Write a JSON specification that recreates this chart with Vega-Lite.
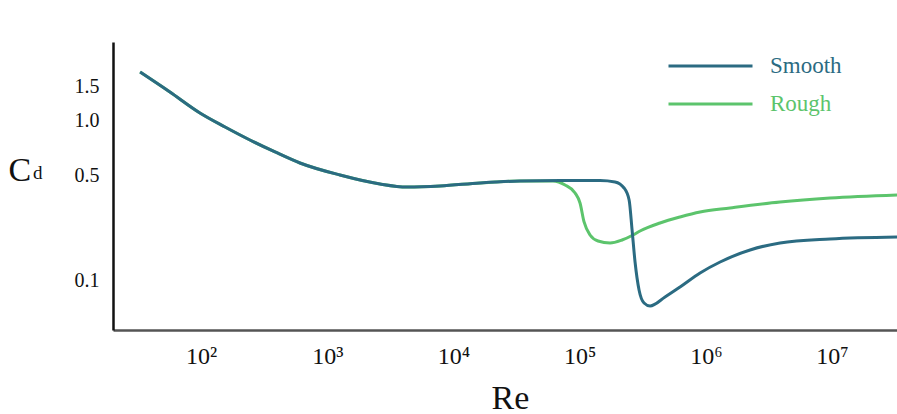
{
  "$schema": "https://vega.github.io/schema/vega-lite/v6.json",
  "width": 784,
  "height": 288,
  "autosize": "none",
  "padding": {"top": 42, "left": 113, "right": 0, "bottom": 84},
  "background": "white",
  "config": {"view": {"stroke": null}},
  "layer": [
    {
      "data": {"values": [
        {"Re": 32.9, "Cd": 1.770, "surface": "Smooth"},
        {"Re": 56.7, "Cd": 1.410, "surface": "Smooth"},
        {"Re": 98, "Cd": 1.1015, "surface": "Smooth"},
        {"Re": 155, "Cd": 0.9292, "surface": "Smooth"},
        {"Re": 244, "Cd": 0.7903, "surface": "Smooth"},
        {"Re": 386, "Cd": 0.6782, "surface": "Smooth"},
        {"Re": 608, "Cd": 0.5876, "surface": "Smooth"},
        {"Re": 1262, "Cd": 0.5006, "surface": "Smooth"},
        {"Re": 2618, "Cd": 0.4429, "surface": "Smooth"},
        {"Re": 4285, "Cd": 0.4249, "surface": "Smooth"},
        {"Re": 7830, "Cd": 0.4308, "surface": "Smooth"},
        {"Re": 16250, "Cd": 0.4490, "surface": "Smooth"},
        {"Re": 33730, "Cd": 0.4615, "surface": "Smooth"},
        {"Re": 70000, "Cd": 0.4646, "surface": "Smooth"},
        {"Re": 145300, "Cd": 0.4646, "surface": "Smooth"},
        {"Re": 190700, "Cd": 0.4552, "surface": "Smooth"},
        {"Re": 224900, "Cd": 0.4191, "surface": "Smooth"},
        {"Re": 246600, "Cd": 0.3541, "surface": "Smooth"},
        {"Re": 260300, "Cd": 0.2278, "surface": "Smooth"},
        {"Re": 274800, "Cd": 0.1375, "surface": "Smooth"},
        {"Re": 295600, "Cd": 0.0855, "surface": "Smooth"},
        {"Re": 323800, "Cd": 0.0677, "surface": "Smooth"},
        {"Re": 361300, "Cd": 0.0641, "surface": "Smooth"},
        {"Re": 475000, "Cd": 0.0755, "surface": "Smooth"},
        {"Re": 624700, "Cd": 0.0901, "surface": "Smooth"},
        {"Re": 900000, "Cd": 0.1146, "surface": "Smooth"},
        {"Re": 1297000, "Cd": 0.1375, "surface": "Smooth"},
        {"Re": 2240000, "Cd": 0.1669, "surface": "Smooth"},
        {"Re": 3870000, "Cd": 0.1864, "surface": "Smooth"},
        {"Re": 9640000, "Cd": 0.1985, "surface": "Smooth"},
        {"Re": 32700000, "Cd": 0.2047, "surface": "Smooth"},
        {"Re": 32.9, "Cd": 1.770, "surface": "Rough"},
        {"Re": 56.7, "Cd": 1.410, "surface": "Rough"},
        {"Re": 98, "Cd": 1.1015, "surface": "Rough"},
        {"Re": 155, "Cd": 0.9292, "surface": "Rough"},
        {"Re": 244, "Cd": 0.7903, "surface": "Rough"},
        {"Re": 386, "Cd": 0.6782, "surface": "Rough"},
        {"Re": 608, "Cd": 0.5876, "surface": "Rough"},
        {"Re": 1262, "Cd": 0.5006, "surface": "Rough"},
        {"Re": 2618, "Cd": 0.4429, "surface": "Rough"},
        {"Re": 4285, "Cd": 0.4249, "surface": "Rough"},
        {"Re": 7830, "Cd": 0.4308, "surface": "Rough"},
        {"Re": 16250, "Cd": 0.4490, "surface": "Rough"},
        {"Re": 33730, "Cd": 0.4615, "surface": "Rough"},
        {"Re": 61500, "Cd": 0.4615, "surface": "Rough"},
        {"Re": 76600, "Cd": 0.4368, "surface": "Rough"},
        {"Re": 92000, "Cd": 0.3909, "surface": "Rough"},
        {"Re": 100700, "Cd": 0.3392, "surface": "Rough"},
        {"Re": 108400, "Cd": 0.2570, "surface": "Rough"},
        {"Re": 120900, "Cd": 0.2111, "surface": "Rough"},
        {"Re": 139900, "Cd": 0.1924, "surface": "Rough"},
        {"Re": 174200, "Cd": 0.1864, "surface": "Rough"},
        {"Re": 216800, "Cd": 0.1954, "surface": "Rough"},
        {"Re": 265000, "Cd": 0.2111, "surface": "Rough"},
        {"Re": 301100, "Cd": 0.2244, "surface": "Rough"},
        {"Re": 433500, "Cd": 0.2532, "surface": "Rough"},
        {"Re": 624700, "Cd": 0.2768, "surface": "Rough"},
        {"Re": 900000, "Cd": 0.2979, "surface": "Rough"},
        {"Re": 1556000, "Cd": 0.3157, "surface": "Rough"},
        {"Re": 3870000, "Cd": 0.3441, "surface": "Rough"},
        {"Re": 9640000, "Cd": 0.3642, "surface": "Rough"},
        {"Re": 32700000, "Cd": 0.3800, "surface": "Rough"}
      ]},
      "encoding": {
        "x": {
          "field": "Re", "type": "quantitative",
          "scale": {"type": "log", "domain": [20.07, 32700000], "nice": false},
          "axis": {
            "values": [100, 1000, 10000, 100000, 1000000, 10000000],
            "labelExpr": "'10' + ['⁰','¹','²','³','⁴','⁵','⁶','⁷','⁸'][round(log(datum.value)/LN10)]",
            "labelFont": "Liberation Serif", "labelFontSize": 24, "labelColor": "#111",
            "labelPadding": 14, "ticks": false, "grid": false,
            "domainColor": "#555", "domainWidth": 2.5,
            "title": "Re", "titleFont": "Liberation Serif", "titleFontSize": 34,
            "titleFontWeight": "normal", "titleColor": "#111",
            "titleX": 397, "titleY": 78, "titleBaseline": "alphabetic", "titleAlign": "center"
          }
        },
        "y": {
          "field": "Cd", "type": "quantitative",
          "scale": {"type": "pow", "exponent": 0.15, "domain": [0.0406, 2.455], "nice": false, "zero": false},
          "axis": {
            "values": [0.1, 0.5, 1, 1.5], "format": ".1f",
            "labelFont": "Liberation Serif", "labelFontSize": 20, "labelColor": "#111",
            "labelPadding": 14, "ticks": false, "grid": false,
            "domainColor": "#111", "domainWidth": 2.5,
            "title": "C", "titleFont": "Liberation Serif", "titleFontSize": 34,
            "titleFontWeight": "normal", "titleColor": "#111", "titleAngle": 0,
            "titleX": -105, "titleY": 138, "titleAlign": "left", "titleBaseline": "alphabetic"
          }
        },
        "color": {
          "field": "surface", "type": "nominal",
          "scale": {"domain": ["Smooth", "Rough"], "range": ["#2b6b82", "#5cc46c"]},
          "legend": {
            "title": null, "orient": "none", "legendX": 554, "legendY": 12,
            "symbolType": "stroke", "symbolSize": 7056, "symbolStrokeWidth": 3,
            "clipHeight": 24,
            "labelFont": "Liberation Serif", "labelFontSize": 23, "labelOffset": 16,
            "rowPadding": 14,
            "encode": {"labels": {"update": {"fill": {"scale": "color", "field": "value"}}}}
          }
        }
      },
      "layer": [
        {
          "transform": [{"filter": "datum.surface === 'Rough'"}],
          "mark": {"type": "line", "interpolate": "monotone", "strokeWidth": 3, "clip": true}
        },
        {
          "transform": [{"filter": "datum.surface === 'Smooth'"}],
          "mark": {"type": "line", "interpolate": "monotone", "strokeWidth": 3, "clip": true}
        }
      ]
    },
    {
      "data": {"values": [{}]},
      "mark": {"type": "text", "text": "d", "font": "Liberation Serif", "fontSize": 19, "color": "#111", "align": "left", "baseline": "alphabetic", "dx": -80, "dy": 4},
      "encoding": {
        "x": {"datum": 20.07, "type": "quantitative"},
        "y": {"datum": 0.5, "type": "quantitative"}
      }
    }
  ]
}
